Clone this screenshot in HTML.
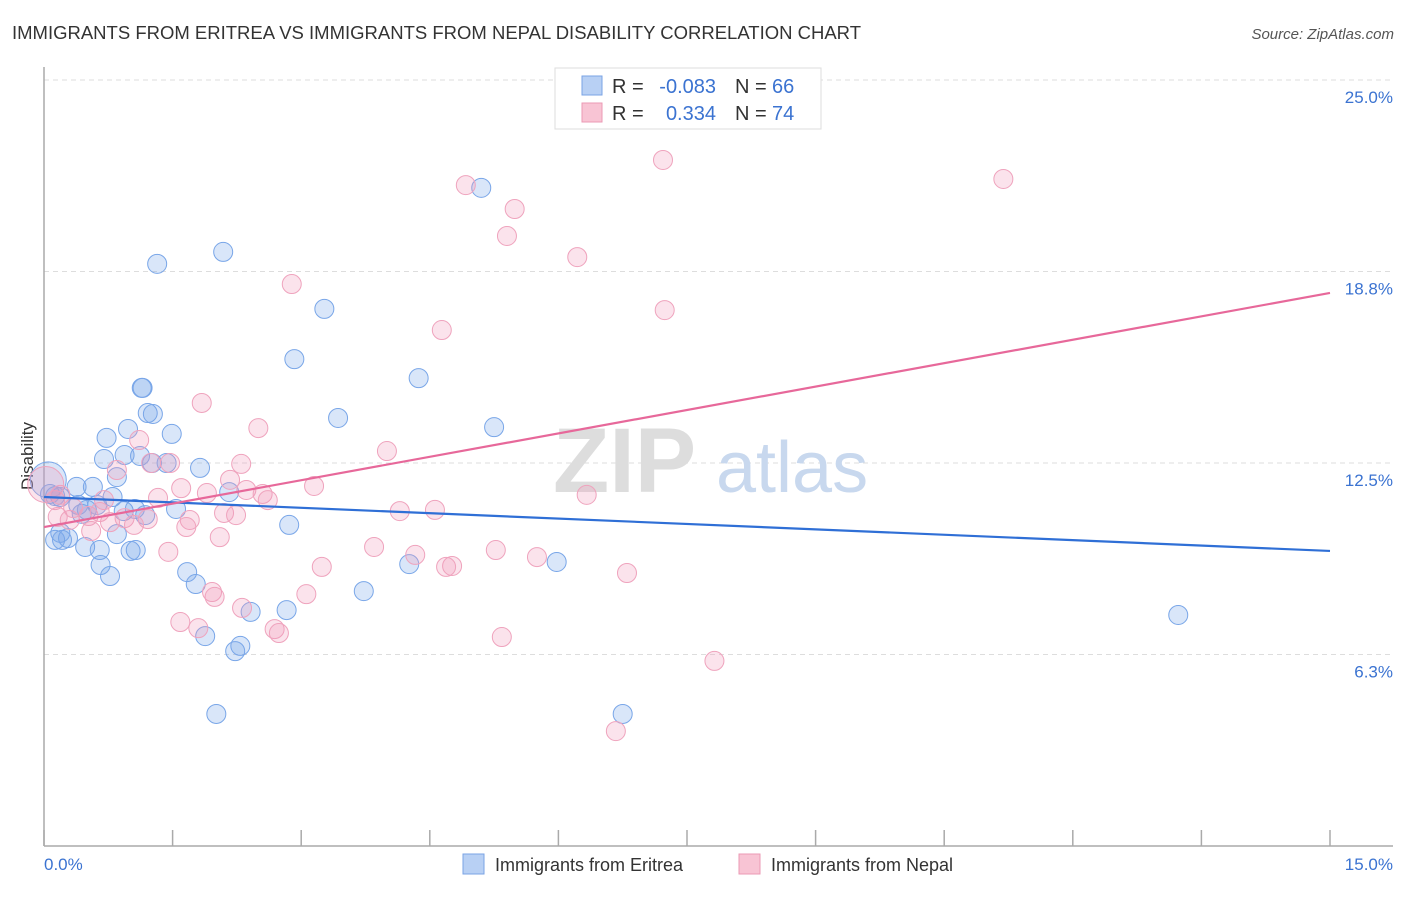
<!DOCTYPE html>
<html><head><meta charset="utf-8">
<style>
body{margin:0;background:#fff;font-family:"Liberation Sans",sans-serif;}
svg text{font-family:"Liberation Sans",sans-serif;}
</style></head>
<body>
<svg id="chart" width="1406" height="892" viewBox="0 0 1406 892" xmlns="http://www.w3.org/2000/svg">
<text x="12" y="39" font-size="18" fill="#333" textLength="849" lengthAdjust="spacingAndGlyphs">IMMIGRANTS FROM ERITREA VS IMMIGRANTS FROM NEPAL DISABILITY CORRELATION CHART</text>
<text x="1394" y="39" font-size="15" fill="#555" font-style="italic" text-anchor="end">Source: ZipAtlas.com</text>
<g id="grid"></g>
<g>
<text x="553" y="492" font-size="92" font-family="Liberation Serif" fill="#ddd" font-weight="bold">ZIP</text>
<text x="716" y="492" font-size="72" fill="#c8d8ee">atlas</text>
</g>
<line x1="44" y1="67" x2="44" y2="846" stroke="#aaa" stroke-width="1.5"/>
<line x1="44" y1="846" x2="1393" y2="846" stroke="#aaa" stroke-width="1.5"/>
<g id="ticks"></g>
<text transform="translate(33,456) rotate(-90)" font-size="17" fill="#333" text-anchor="middle">Disability</text>
<text x="44" y="870" font-size="17" fill="#3b73d1">0.0%</text>
<text x="1393" y="870" font-size="17" fill="#3b73d1" text-anchor="end">15.0%</text>
<g id="pts"></g>
<g id="trends"></g>
<g>
<rect x="555" y="68" width="266" height="61" fill="#fff" stroke="#ddd"/>
<rect x="582" y="76" width="20" height="19" fill="#b8d0f4" stroke="#7aa3e4"/>
<rect x="582" y="103" width="20" height="19" fill="#f8c4d4" stroke="#eb9ab4"/>
<text x="612" y="93" font-size="20" fill="#333">R =</text>
<text x="716" y="93" font-size="20" fill="#3b73d1" text-anchor="end">-0.083</text>
<text x="735" y="93" font-size="20" fill="#333">N =</text>
<text x="772" y="93" font-size="20" fill="#3b73d1">66</text>
<text x="612" y="120" font-size="20" fill="#333">R =</text>
<text x="716" y="120" font-size="20" fill="#3b73d1" text-anchor="end">0.334</text>
<text x="735" y="120" font-size="20" fill="#333">N =</text>
<text x="772" y="120" font-size="20" fill="#3b73d1">74</text>
</g>
<g>
<rect x="463" y="854" width="21" height="20" fill="#b8d0f4" stroke="#7aa3e4"/>
<text x="495" y="871" font-size="18" fill="#333">Immigrants from Eritrea</text>
<rect x="739" y="854" width="21" height="20" fill="#f8c4d4" stroke="#eb9ab4"/>
<text x="771" y="871" font-size="18" fill="#333">Immigrants from Nepal</text>
</g>
</svg>
<script>
const yTicks=[25.0,18.75,12.5,6.25];
const yTickLabels=["25.0%","18.8%","12.5%","6.3%"];
const xTicks=[0,1.5,3,4.5,6,7.5,9,10.5,12,13.5,15];
const eritreaX=[5.10,2.09,1.32,3.27,2.92,4.37,1.14,1.21,1.27,3.43,5.25,0.98,1.49,0.73,0.94,1.12,0.70,1.26,1.43,1.82,0.85,0.38,0.57,0.07,0.13,2.16,0.80,0.19,0.40,0.62,0.50,0.93,1.06,1.54,0.44,1.18,2.86,0.19,0.85,0.28,0.13,0.21,0.48,0.65,1.01,1.07,4.26,5.98,0.66,1.67,0.77,1.77,3.73,2.41,2.83,13.23,1.88,2.29,2.23,2.01,6.75,1.15,0.05];
const eritreaY=[21.48,19.39,19.0,17.53,15.89,15.27,14.95,14.13,14.10,13.97,13.67,13.61,13.45,13.32,12.76,12.73,12.63,12.50,12.50,12.34,12.04,11.72,11.72,11.49,11.42,11.55,11.39,11.39,11.13,11.13,10.97,10.93,11.0,11.0,10.84,10.80,10.48,10.22,10.18,10.05,9.99,9.99,9.76,9.66,9.63,9.66,9.20,9.27,9.17,8.94,8.81,8.55,8.32,7.64,7.70,7.54,6.85,6.53,6.36,4.31,4.31,14.95,11.95];
const nepalX=[7.22,11.19,4.92,5.49,5.40,6.22,2.89,7.24,4.64,1.84,2.50,1.11,4.00,2.30,1.25,1.47,0.85,2.17,1.60,3.15,1.90,2.36,2.55,6.33,2.61,1.33,0.13,0.70,4.15,4.56,0.94,1.21,0.16,0.52,1.70,2.10,2.24,0.65,0.30,0.77,1.05,1.66,0.55,2.05,3.85,5.27,1.45,4.33,5.75,3.24,4.76,4.69,6.80,3.06,1.96,1.99,2.31,1.59,1.80,2.69,2.74,5.34,7.82,6.67,0.19,0.34,0.02];
const nepalY=[22.39,21.77,21.57,20.79,19.91,19.22,18.34,17.49,16.84,14.46,13.64,13.25,12.89,12.47,12.50,12.50,12.27,11.95,11.68,11.75,11.52,11.62,11.49,11.46,11.29,11.36,11.29,11.29,10.93,10.97,10.70,10.67,10.74,10.77,10.64,10.87,10.80,10.90,10.64,10.57,10.48,10.41,10.28,10.08,9.76,9.66,9.60,9.50,9.43,9.11,9.14,9.11,8.91,8.22,8.29,8.13,7.77,7.31,7.11,7.08,6.95,6.82,6.04,3.75,11.46,11.03,11.8];
const eritreaTrend=[11.39,9.63];
const nepalTrend=[10.41,18.05];
const NS="http://www.w3.org/2000/svg";
function xs(v){return 44+v/15*1286;}
function ys(v){return 846-v/25*766;}
const grid=document.getElementById('grid');
yTicks.forEach((t,i)=>{
 const l=document.createElementNS(NS,'line');
 l.setAttribute('x1',44);l.setAttribute('x2',1393);l.setAttribute('y1',ys(t));l.setAttribute('y2',ys(t));
 l.setAttribute('stroke','#ddd');l.setAttribute('stroke-dasharray','5,4');
 
 
 grid.appendChild(l);
 const tx=document.createElementNS(NS,'text');
 tx.setAttribute('x',1393);tx.setAttribute('y',ys(t)+23);tx.setAttribute('text-anchor','end');
 tx.setAttribute('font-size','17');tx.setAttribute('fill','#3b73d1');tx.textContent=yTickLabels[i];
 
 
 grid.appendChild(tx);
});
const tk=document.getElementById('ticks');
xTicks.forEach(t=>{
 const l=document.createElementNS(NS,'line');
 l.setAttribute('x1',xs(t));l.setAttribute('x2',xs(t));l.setAttribute('y1',830);l.setAttribute('y2',846);
 l.setAttribute('stroke','#aaa');l.setAttribute('stroke-width','1.5');
 
 
 tk.appendChild(l);
});
const pts=document.getElementById('pts');
function draw(X,Y,fill,stroke,name){
 X.forEach((x,i)=>{
  const c=document.createElementNS(NS,'circle');
  c.setAttribute('cx',xs(x));c.setAttribute('cy',ys(Y[i]));
  c.setAttribute('r', i===X.length-1?18:9.5);
  c.setAttribute('fill',fill);c.setAttribute('stroke',stroke);c.setAttribute('stroke-width','1');
  
  
  pts.appendChild(c);
 });
}
draw(eritreaX,eritreaY,'rgba(120,165,235,0.28)','#79a6e8','eritrea-point');
draw(nepalX,nepalY,'rgba(242,155,185,0.28)','#efa3bd','nepal-point');
const tr=document.getElementById('trends');
[[eritreaTrend,'#2f6fd6','eritrea-trend-line'],[nepalTrend,'#e7689a','nepal-trend-line']].forEach(([t,col,n])=>{
 const l=document.createElementNS(NS,'line');
 l.setAttribute('x1',xs(0));l.setAttribute('x2',xs(15));l.setAttribute('y1',ys(t[0]));l.setAttribute('y2',ys(t[1]));
 l.setAttribute('stroke',col);l.setAttribute('stroke-width','2.2');
 
 
 tr.appendChild(l);
});
</script>
</body></html>
